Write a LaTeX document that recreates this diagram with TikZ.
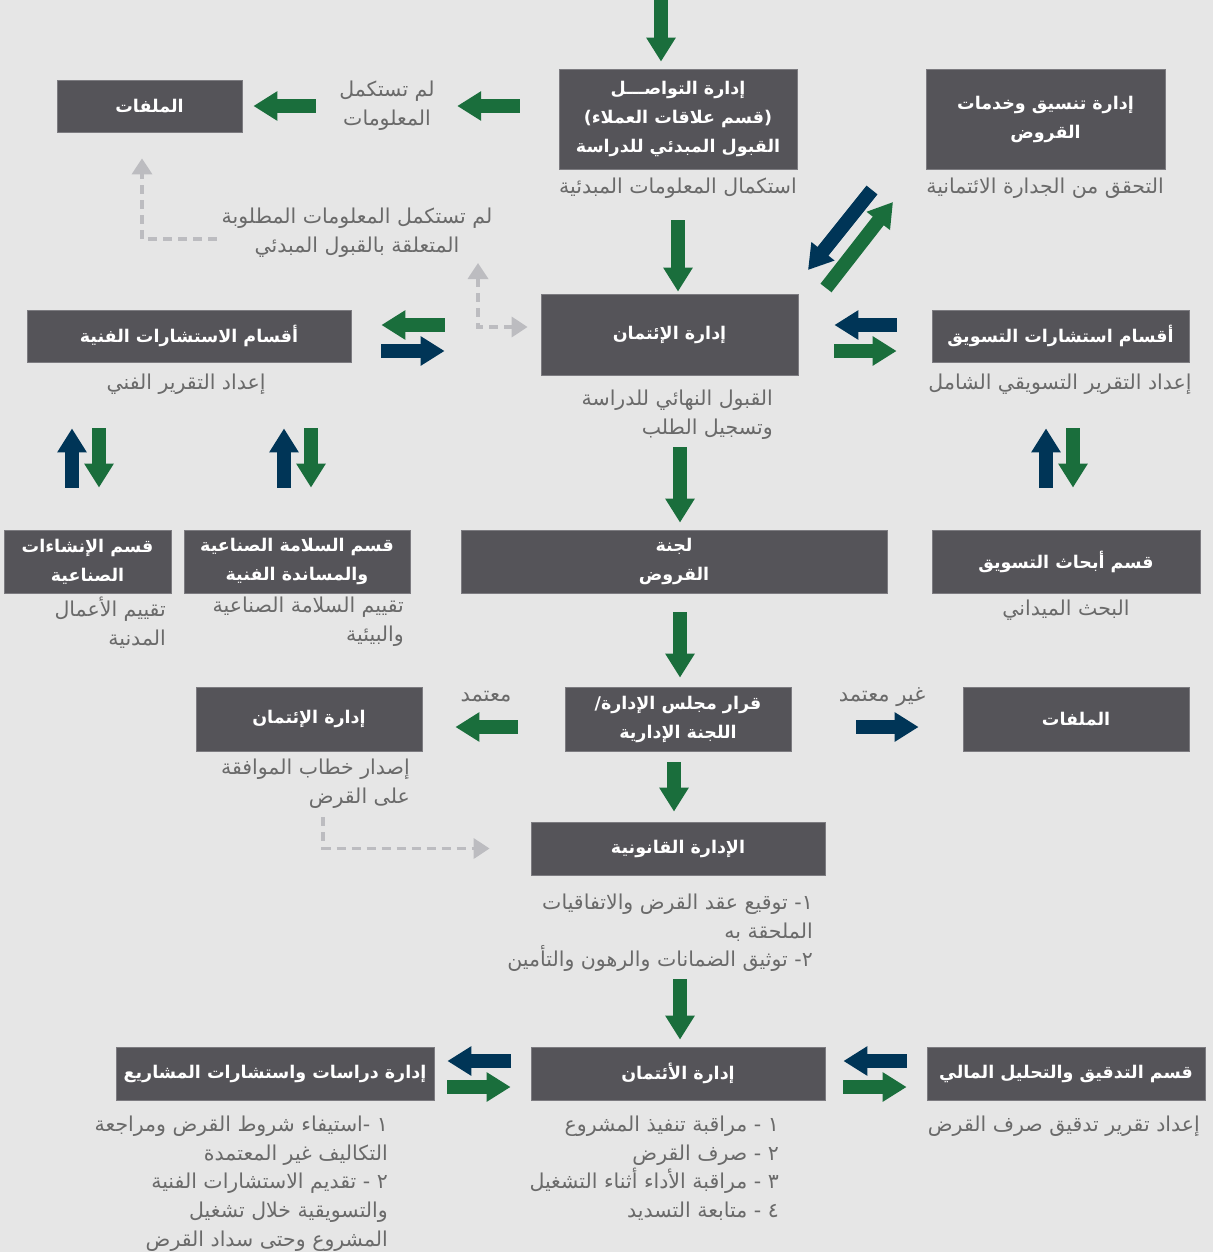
\documentclass[tikz,border=0pt]{standalone}
\usepackage{fontspec}
\usetikzlibrary{arrows.meta}
\newfontfamily\arabicfont[Script=Arabic]{DejaVu Sans}
\TeXXeTstate=1
\newcommand\AR[1]{\leavevmode\beginR #1\endR}
\newcommand\boxfnt{\arabicfont\bfseries\fontsize{17.5}{29}\selectfont}
\newcommand\subfnt{\arabicfont\fontsize{20.5}{28.6}\selectfont}
\newcommand\lblfnt{\arabicfont\fontsize{21}{28}\selectfont}
\definecolor{bgc}{HTML}{E6E6E6}
\definecolor{boxc}{HTML}{555459}
\definecolor{boxedge}{HTML}{7C7B80}
\definecolor{grn}{HTML}{1A6E3C}
\definecolor{nvy}{HTML}{003557}
\definecolor{dgray}{HTML}{BCBCC0}
\definecolor{subc}{HTML}{6A6A6A}
\tikzset{
  box/.style={fill=boxc, draw=boxedge, line width=0.8pt, text=white, font=\boxfnt, align=center, inner sep=0pt},
  subtxt/.style={text=subc, font=\subfnt, inner sep=0pt},
  lbltxt/.style={text=subc, font=\lblfnt, inner sep=0pt},
  blockarr/.style={line width=14pt, -{Triangle[length=24pt,width=28pt]}},
  garr/.style={blockarr, draw=grn},
  narr/.style={blockarr, draw=nvy},
  dasharr/.style={draw=dgray, line width=3.5pt, dash pattern=on 9pt off 6pt, -{Triangle[length=16pt,width=20pt]}},
  dasharrb/.style={draw=dgray, line width=3.5pt, dash pattern=on 9pt off 6pt, {Triangle[length=16pt,width=20pt]}-{Triangle[length=16pt,width=20pt]}}
}
\begin{document}
\begin{tikzpicture}[x=1pt,y=-1pt]
\fill[bgc] (0,0) rectangle (1213,1252);
\useasboundingbox (0,0) rectangle (1213,1252);

% boxes
\node[box, minimum width=238pt, minimum height=100pt] (comm) at (678,119)
  {\AR{إدارة التواصـــل}\\\AR{(قسم علاقات العملاء)}\\\AR{القبول المبدئي للدراسة}};
\node[box, minimum width=239pt, minimum height=100pt] (loans) at (1045.5,119)
  {\AR{إدارة تنسيق وخدمات}\\\AR{القروض}};
\node[box, minimum width=185pt, minimum height=52pt] (files) at (149.5,106) {\AR{الملفات}};
\node[box, minimum width=257pt, minimum height=81pt] (credit) at (669.5,334.5) {\AR{إدارة الإئتمان}};
\node[box, minimum width=324pt, minimum height=52pt] (tech) at (189,336) {\AR{أقسام الاستشارات الفنية}};
\node[box, minimum width=257pt, minimum height=52pt] (mkt) at (1060.5,336) {\AR{أقسام استشارات التسويق}};
\node[box, minimum width=167pt, minimum height=63pt] (cons) at (87.5,561.5) {\AR{قسم الإنشاءات}\\\AR{الصناعية}};
\node[box, minimum width=226pt, minimum height=63pt] (safe) at (297,561.5) {\AR{قسم السلامة الصناعية}\\\AR{والمساندة الفنية}};
\node[box, minimum width=426pt, minimum height=63pt] (comt) at (674,561.5) {\AR{لجنة}\\\AR{القروض}};
\node[box, minimum width=268pt, minimum height=63pt] (mres) at (1066,561.5) {\AR{قسم أبحاث التسويق}};
\node[box, minimum width=226pt, minimum height=64pt] (board) at (678,719) {\AR{قرار مجلس الإدارة/}\\\AR{اللجنة الإدارية}};
\node[box, minimum width=226pt, minimum height=64pt] (cred2) at (309,719) {\AR{إدارة الإئتمان}};
\node[box, minimum width=226pt, minimum height=64pt] (files2) at (1076,719) {\AR{الملفات}};
\node[box, minimum width=294pt, minimum height=53pt] (legal) at (678,848.5) {\AR{الإدارة القانونية}};
\node[box, minimum width=294pt, minimum height=53pt] (credit3) at (678,1073.5) {\AR{إدارة الأئتمان}};
\node[box, minimum width=318pt, minimum height=53pt] (proj) at (275,1073.5) {\AR{إدارة دراسات واستشارات المشاريع}};
\node[box, minimum width=278pt, minimum height=53pt] (audit) at (1066,1073.5) {\AR{قسم التدقيق والتحليل المالي}};

% subtitles and labels
\node[subtxt] (commsub) at (678,188) {\AR{استكمال المعلومات المبدئية}};
\node[subtxt] (loanssub) at (1045,188) {\AR{التحقق من الجدارة الائتمانية}};
\node[subtxt, align=center, minimum width=140pt] (nf1) at (387,106) {\AR{لم تستكمل}\\\AR{المعلومات}};
\node[subtxt, align=center, minimum width=270pt] (nf2) at (357,233) {\AR{لم تستكمل المعلومات المطلوبة}\\\AR{المتعلقة بالقبول المبدئي}};
\node[subtxt, align=right, anchor=north east] (creditsub) at (773,390) {\AR{القبول النهائي للدراسة}\\\AR{وتسجيل الطلب}};
\node[subtxt] (techsub) at (186,384) {\AR{إعداد التقرير الفني}};
\node[subtxt] (mktsub) at (1060,384) {\AR{إعداد التقرير التسويقي الشامل}};
\node[subtxt, align=right, anchor=north east] (conssub) at (166,597) {\AR{تقييم الأعمال}\\\AR{المدنية}};
\node[subtxt, align=right, anchor=north east] (safesub) at (404,597) {\AR{تقييم السلامة الصناعية}\\\AR{والبيئية}};
\node[subtxt] (mressub) at (1066,610) {\AR{البحث الميداني}};
\node[lbltxt] (apr) at (486,697) {\AR{معتمد}};
\node[lbltxt] (napr) at (882,697) {\AR{غير معتمد}};
\node[subtxt, align=right, anchor=north east] (cred2sub) at (410,759) {\AR{إصدار خطاب الموافقة}\\\AR{على القرض}};
\node[subtxt, align=right, anchor=north east] (legalsub) at (813,894)
  {\AR{١- توقيع عقد القرض والاتفاقيات}\\\AR{الملحقة به}\\\AR{٢- توثيق الضمانات والرهون والتأمين}};
\node[subtxt, align=right, anchor=north east] (credit3sub) at (779,1116)
  {\AR{١ - مراقبة تنفيذ المشروع}\\\AR{٢ - صرف القرض}\\\AR{٣ - مراقبة الأداء أثناء التشغيل}\\\AR{٤ - متابعة التسديد}};
\node[subtxt, align=right, anchor=north east] (projsub) at (388,1116)
  {\AR{١ -استيفاء شروط القرض ومراجعة}\\\AR{التكاليف غير المعتمدة}\\\AR{٢ - تقديم الاستشارات الفنية}\\\AR{والتسويقية خلال تشغيل}\\\AR{المشروع وحتى سداد القرض}};
\node[subtxt, anchor=north east] (auditsub) at (1200,1116) {\AR{إعداد تقرير تدقيق صرف القرض}};

% free-end coordinates
\coordinate (top) at (661,0);
\coordinate (n1) at (872,190);
\coordinate (n2) at (808,270);
\coordinate (g1) at (826,288);
\coordinate (g2) at (893,202);
\coordinate (d2) at (478,263);
\coordinate (d3) at (323,817);

% main flow
\draw[garr, shorten >=7pt] (top) -- (top |- comm.north);
\draw[garr, shorten <=51pt, shorten >=2pt] (comm.south -| 678,0) -- (credit.north -| 678,0);
\draw[garr, shorten <=39pt] (comm.west |- nf1) -- (nf1.east);
\draw[garr, shorten <=1pt, shorten >=11pt] (nf1.west) -- (files.east |- nf1);
\draw[narr] (n1) -- (n2);
\draw[garr] (g1) -- (g2);
\draw[garr, shorten <=96pt, shorten >=30pt] (credit.west |- 0,325) -- (tech.east |- 0,325);
\draw[narr, shorten <=30pt, shorten >=96pt] (tech.east |- 0,351) -- (credit.west |- 0,351);
\draw[narr, shorten <=35pt, shorten >=36pt] (mkt.west |- 0,325) -- (credit.east |- 0,325);
\draw[garr, shorten <=36pt, shorten >=35pt] (credit.east |- 0,351) -- (mkt.west |- 0,351);
% vertical pairs
\draw[narr, shorten <=42pt, shorten >=66pt] (cons.north -| 72,0) -- (tech.south -| 72,0);
\draw[garr, shorten <=66pt, shorten >=42pt] (tech.south -| 99,0) -- (cons.north -| 99,0);
\draw[narr, shorten <=42pt, shorten >=66pt] (safe.north -| 284,0) -- (tech.south -| 284,0);
\draw[garr, shorten <=66pt, shorten >=42pt] (tech.south -| 311,0) -- (safe.north -| 311,0);
\draw[narr, shorten <=42pt, shorten >=66pt] (mres.north -| 1046,0) -- (mkt.south -| 1046,0);
\draw[garr, shorten <=66pt, shorten >=42pt] (mkt.south -| 1073,0) -- (mres.north -| 1073,0);
% down the middle
\draw[garr, shorten <=72pt, shorten >=7pt] (credit.south -| 680,0) -- (comt.north -| 680,0);
\draw[garr, shorten <=19pt, shorten >=9pt] (comt.south -| 680,0) -- (board.north -| 680,0);
\draw[garr, shorten <=47pt, shorten >=33pt] (board.west |- 0,727) -- (cred2.east |- 0,727);
\draw[narr, shorten <=65pt, shorten >=44pt] (board.east |- 0,727) -- (files2.west |- 0,727);
\draw[garr, shorten <=11pt, shorten >=10pt] (board.south -| 674,0) -- (legal.north -| 674,0);
\draw[garr, shorten <=104pt, shorten >=7pt] (legal.south -| 680,0) -- (credit3.north -| 680,0);
% bottom pairs
\draw[narr, shorten <=20pt, shorten >=13pt] (credit3.west |- 0,1061) -- (proj.east |- 0,1061);
\draw[garr, shorten <=13pt, shorten >=20pt] (proj.east |- 0,1087) -- (credit3.west |- 0,1087);
\draw[narr, shorten <=20pt, shorten >=18pt] (audit.west |- 0,1061) -- (credit3.east |- 0,1061);
\draw[garr, shorten <=18pt, shorten >=20pt] (credit3.east |- 0,1087) -- (audit.west |- 0,1087);
% dashed
\draw[dasharr, shorten <=5pt, shorten >=26pt] (nf2.west |- 0,239) -| (files.south -| 142,0);
\draw[dasharrb, shorten >=13pt] (d2) |- (credit.west |- 0,327);
\draw[dasharr, shorten >=41pt] (d3) |- (legal.west);
\end{tikzpicture}
\end{document}
